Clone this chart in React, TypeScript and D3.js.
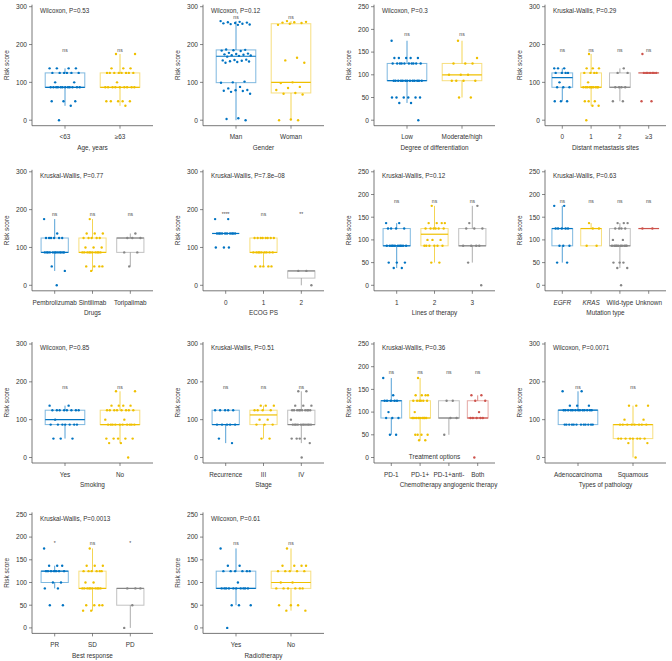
import React from "react";
import * as d3 from "d3";

const BLUE = "#0073C2";
const YEL = "#EFC000";
const GRAY = "#868686";
const RED = "#CD534C";

const ticks300 = [0, 100, 200, 300];
const ticks250 = [0, 50, 100, 150, 200, 250];

// Panel 1: Age
const ageCats = ["<63", "≥63"];
const ageLt63 = [137,137,137,137,125,125,125,125,125,125,100,100,87,87,87,87,87,87,87,87,87,87,87,87,50,50,50,38,0];
const ageGe63 = [175,175,137,137,137,125,125,125,125,125,125,125,125,100,87,87,87,87,87,87,87,87,87,50,50,50,50,50,38];
// Panel 2: Gender
const genderCats = ["Man", "Woman"];
const genderMan = [262,260,259,258,257,256,255,254,253,252,187,186,185,184,183,178,176,175,174,173,172,171,170,168,160,159,158,157,156,155,154,152,102,100,99,88,84,80,79,78,77,75,70,5,3,0];
const genderWoman = [262,260,259,258,257,255,252,165,158,152,100,98,88,85,80,72,70,68,2,0,0];
// Panel 3: Differentiation
const diffCats = ["Low", "Moderate/high"];
const diffLow = [175,137,137,137,137,137,125,125,125,125,125,125,125,125,125,125,87,87,87,87,87,87,87,87,87,87,87,87,87,50,50,50,50,50,50,38,38,0];
const diffMod = [175,137,125,125,125,100,100,100,87,87,87,87,50,50];
// Panel 4: Distant metastasis
const metaCats = ["0", "1", "2", "≥3"];
const meta0 = [137,137,137,125,125,125,125,100,87,87,87,50,50,50];
const meta1 = [175,137,137,137,125,125,125,125,100,87,87,87,87,87,87,87,87,87,87,50,50,50,38,38,0];
const meta2 = [137,125,125,87,87,87,87,50,50];
const meta3 = [175,125,125,125,125,125,125,125,50,50];
// Panel 5: Drugs
const drugCats = ["Pembrolizumab", "Sintilimab", "Toripalimab"];
const drugPem = [175,137,125,125,125,125,125,125,87,87,87,87,87,87,87,87,87,87,87,87,50,38,0];
const drugSin = [175,137,137,137,125,125,125,125,125,100,100,100,87,87,87,87,87,87,87,87,87,87,50,50,50,50,38];
const drugTor = [137,125,125,125,87,87,50];
// Panel 6: ECOG
const ecogCats = ["0", "1", "2"];
const ecog0 = [175,175,137,137,137,137,137,137,137,137,137,137,100,100,100];
const ecog1 = [125,125,125,125,125,125,125,125,87,87,87,87,87,87,87,87,87,50,50,50,50,50];
const ecog2 = [38,38,0];
// Panel 7: Lines of therapy
const linesCats = ["1", "2", "3"];
const lines1 = [137,137,125,125,125,125,87,87,87,87,87,87,87,87,87,87,50,50,50,38,38];
const lines2 = [175,137,137,137,137,125,125,125,125,125,125,100,100,100,87,87,87,87,87,87,50,50];
const lines3 = [175,137,125,125,125,87,87,87,87,50,0];
// Panel 8: Mutation
const mutCats = ["EGFR", "KRAS", "Wild-type", "Unknown"];
const mutEgfr = [175,175,125,125,125,125,125,87,87,87,50,50];
const mutKras = [137,125,125,87,87];
const mutWild = [137,137,137,125,125,125,125,100,100,87,87,87,87,87,87,87,87,87,87,50,50,50,38,38,0];
const mutUnk = [125,125];
// Panel 9: Smoking
const smokeCats = ["Yes", "No"];
const smokeYes = [137,137,125,125,125,125,125,125,125,125,100,87,87,87,87,87,87,87,50,50,50];
const smokeNo = [175,175,137,137,137,137,125,125,125,125,125,125,125,125,100,100,87,87,87,87,87,87,87,87,87,87,50,50,50,50,50,38,38,0];
// Panel 10: Stage
const stageCats = ["Recurrence", "III", "IV"];
const stageRec = [125,125,125,125,125,87,87,87,87,87,50,38];
const stageIII = [137,137,137,125,125,125,125,100,100,87,87,87,50,50];
const stageIV = [175,175,137,137,137,125,125,125,125,125,125,125,125,125,125,100,87,87,87,87,87,87,87,87,87,87,87,50,50,50,50,38,0];
// Panel 11: Treatment options
const trtCats = ["PD-1", "PD-1+", "PD-1+anti-", "Both"];
const trtPd1 = [175,137,125,125,125,125,125,100,87,87,87,50,50];
const trtChemo = [175,137,137,137,137,125,125,125,125,125,125,100,87,87,87,87,87,87,87,87,87,50,50,50,50,38,38];
const trtAnti = [125,125,87,87,50];
const trtBoth = [137,137,125,125,100,87,87,87,87,87,0];
// Panel 12: Pathology
const pathCats = ["Adenocarcinoma", "Squamous"];
const pathAdeno = [175,175,137,137,137,125,125,125,125,125,125,125,125,125,125,125,125,125,87,87,87,87,87,87,87,87,87,87,87,87];
const pathSq = [137,137,137,100,100,87,87,87,87,87,87,87,87,50,50,50,50,50,50,50,50,38,38,0];
// Panel 13: Best response
const respCats = ["PR", "SD", "PD"];
const respPr = [175,137,137,137,125,125,125,125,125,125,125,100,100,87,87,50,50];
const respSd = [175,137,137,137,125,125,125,125,125,125,100,100,87,87,87,87,87,87,87,87,87,87,50,50,50,50,38,38];
const respPd = [87,87,87,50,0];
// Panel 14: Radiotherapy
const radioCats = ["Yes", "No"];
const radioYes = [175,137,137,125,125,125,125,125,125,100,87,87,87,87,87,87,87,87,87,87,50,50,50,0];
const radioNo = [175,137,137,137,137,125,125,125,125,125,100,100,87,87,87,87,87,87,50,50,50,38,38];

type Panel = {
  row: number; col: number; yMax: number; ticks: number[]; test: string;
  cats: string[]; groups: number[][]; colors: string[]; sig: string[]; sigY: number;
  xTitle: string; italic?: boolean[]; extra?: string; titleShift?: number;
};

const C2 = [BLUE, YEL];
const C3 = [BLUE, YEL, GRAY];
const C4 = [BLUE, YEL, GRAY, RED];

const panels: Panel[] = [
  { row: 0, col: 0, yMax: 300, ticks: ticks300, test: "Wilcoxon, P=0.53", cats: ageCats, groups: [ageLt63, ageGe63], colors: C2, sig: ["ns", "ns"], sigY: 186, xTitle: "Age, years" },
  { row: 0, col: 1, yMax: 300, ticks: ticks300, test: "Wilcoxon, P=0.12", cats: genderCats, groups: [genderMan, genderWoman], colors: C2, sig: ["ns", "ns"], sigY: 273, xTitle: "Gender" },
  { row: 0, col: 2, yMax: 250, ticks: ticks250, test: "Wilcoxon, P=0.3", cats: diffCats, groups: [diffLow, diffMod], colors: C2, sig: ["ns", "ns"], sigY: 190, xTitle: "Degree of differentiation" },
  { row: 0, col: 3, yMax: 300, ticks: ticks300, test: "Kruskal-Wallis, P=0.29", cats: metaCats, groups: [meta0, meta1, meta2, meta3], colors: C4, sig: ["ns", "ns", "ns", "ns"], sigY: 186, xTitle: "Distant metastasis sites" },
  { row: 1, col: 0, yMax: 300, ticks: ticks300, test: "Kruskal-Wallis, P=0.77", cats: drugCats, groups: [drugPem, drugSin, drugTor], colors: C3, sig: ["ns", "ns", "ns"], sigY: 188, xTitle: "Drugs" },
  { row: 1, col: 1, yMax: 300, ticks: ticks300, test: "Kruskal-Wallis, P=7.8e\u201308", cats: ecogCats, groups: [ecog0, ecog1, ecog2], colors: C3, sig: ["****", "ns", "**"], sigY: 188, xTitle: "ECOG PS" },
  { row: 1, col: 2, yMax: 250, ticks: ticks250, test: "Kruskal-Wallis, P=0.12", cats: linesCats, groups: [lines1, lines2, lines3], colors: C3, sig: ["ns", "ns", "ns"], sigY: 185, xTitle: "Lines of therapy" },
  { row: 1, col: 3, yMax: 250, ticks: ticks250, test: "Kruskal-Wallis, P=0.63", cats: mutCats, groups: [mutEgfr, mutKras, mutWild, mutUnk], colors: C4, sig: ["ns", "ns", "ns", "ns"], sigY: 185, xTitle: "Mutation type", italic: [true, true, false, false] },
  { row: 2, col: 0, yMax: 300, ticks: ticks300, test: "Wilcoxon, P=0.85", cats: smokeCats, groups: [smokeYes, smokeNo], colors: C2, sig: ["ns", "ns"], sigY: 186, xTitle: "Smoking" },
  { row: 2, col: 1, yMax: 300, ticks: ticks300, test: "Kruskal-Wallis, P=0.51", cats: stageCats, groups: [stageRec, stageIII, stageIV], colors: C3, sig: ["ns", "ns", "ns"], sigY: 186, xTitle: "Stage" },
  { row: 2, col: 2, yMax: 250, ticks: ticks250, test: "Kruskal-Wallis, P=0.36", cats: trtCats, groups: [trtPd1, trtChemo, trtAnti, trtBoth], colors: C4, sig: ["ns", "ns", "ns", "ns"], sigY: 187, xTitle: "Chemotherapy angiogenic therapy", extra: "Treatment options", titleShift: 14 },
  { row: 2, col: 3, yMax: 300, ticks: ticks300, test: "Wilcoxon, P=0.0071", cats: pathCats, groups: [pathAdeno, pathSq], colors: C2, sig: ["ns", "ns"], sigY: 186, xTitle: "Types of pathology" },
  { row: 3, col: 0, yMax: 250, ticks: ticks250, test: "Kruskal-Wallis, P=0.0013", cats: respCats, groups: [respPr, respSd, respPd], colors: C3, sig: ["*", "ns", "*"], sigY: 186, xTitle: "Best response" },
  { row: 3, col: 1, yMax: 250, ticks: ticks250, test: "Wilcoxon, P=0.61", cats: radioCats, groups: [radioYes, radioNo], colors: C2, sig: ["ns", "ns"], sigY: 187, xTitle: "Radiotherapy" },
];

const ROW_TOP = [6.7, 171.8, 344, 514.4];
const PH = 113.5;
const PW = 121;
const FONT = "'Liberation Sans', Arial, Helvetica, sans-serif";
const TXT = "#333";
const AX = "#555";

function boxStats(v: number[]) {
  const s = [...v].sort(d3.ascending);
  const q1 = d3.quantile(s, 0.25)!;
  const med = d3.quantile(s, 0.5)!;
  const q3 = d3.quantile(s, 0.75)!;
  const iqr = q3 - q1;
  const lo = d3.min(s.filter((d) => d >= q1 - 1.5 * iqr))!;
  const hi = d3.max(s.filter((d) => d <= q3 + 1.5 * iqr))!;
  return { q1, med, q3, lo, hi };
}

function PanelView({ p }: { p: Panel }) {
  const x0 = 32 + 171 * p.col;
  const top = ROW_TOP[p.row];
  const zero = top + PH;
  const y = d3.scaleLinear().domain([0, p.yMax]).range([zero, top]);
  const x = d3.scalePoint<string>().domain(p.cats).range([x0, x0 + PW]).padding(0.6);
  const step = x.step();
  const axisY = zero + 5.5;
  const axisTop = top - 2;
  const bw = step * 0.72;
  const jw = step * 0.28;
  return (
    <g>
      <line x1={x0} x2={x0} y1={axisTop} y2={axisY} stroke={AX} strokeWidth={0.8} />
      {p.ticks.map((t) => (
        <g key={t}>
          <line x1={x0 - 3} x2={x0} y1={y(t)} y2={y(t)} stroke={AX} strokeWidth={0.7} />
          <text x={x0 - 5} y={y(t)} dy="0.35em" textAnchor="end" fontSize={6.6} fill={TXT}>{t}</text>
        </g>
      ))}
      <text transform={`translate(${x0 - 25},${(axisTop + axisY) / 2}) rotate(-90)`} textAnchor="middle" dy="0.35em" fontSize={6.4} fill={TXT}>Risk score</text>
      <line x1={x0} x2={x0 + PW} y1={axisY} y2={axisY} stroke={AX} strokeWidth={0.8} />
      {p.cats.map((c, i) => (
        <g key={c}>
          <line x1={x(c)!} x2={x(c)!} y1={axisY} y2={axisY + 3} stroke={AX} strokeWidth={0.7} />
          <text x={x(c)!} y={axisY + 11.5} dy="0.35em" textAnchor="middle" fontSize={6.4} fill={TXT} fontStyle={p.italic && p.italic[i] ? "italic" : "normal"}>{c}</text>
        </g>
      ))}
      <text x={x0 + PW / 2 + (p.titleShift || 0)} y={axisY + 22} dy="0.35em" textAnchor="middle" fontSize={6.4} fill={TXT}>{p.xTitle}</text>
      {p.extra && (
        <text x={x0 + PW / 2} y={zero - 1} dy="0.35em" textAnchor="middle" fontSize={6.4} fill={TXT}>{p.extra}</text>
      )}
      <text x={x0 + 8} y={top + 4} dy="0.35em" fontSize={6.3} fill={TXT}>{p.test}</text>
      {p.groups.map((g, gi) => {
        const c = p.cats[gi];
        const cx = x(c)!;
        const st = boxStats(g);
        const col = p.colors[gi];
        return (
          <g key={c}>
            <line x1={cx} x2={cx} y1={y(st.q3)} y2={y(st.hi)} stroke={col} strokeWidth={0.9} strokeOpacity={0.75} />
            <line x1={cx} x2={cx} y1={y(st.q1)} y2={y(st.lo)} stroke={col} strokeWidth={0.9} strokeOpacity={0.75} />
            <rect x={cx - bw / 2} y={y(st.q3)} width={bw} height={Math.max(0, y(st.q1) - y(st.q3))} fill="#fff" fillOpacity={0} stroke={col} strokeOpacity={0.5} strokeWidth={1} />
            <line x1={cx - bw / 2} x2={cx + bw / 2} y1={y(st.med)} y2={y(st.med)} stroke={col} strokeWidth={1.2} />
            {g.map((v, i) => {
              const off = (((i * 0.6180339887 + gi * 0.37) % 1) - 0.5) * 2 * jw;
              return <circle key={i} cx={cx + off} cy={y(v)} r={1.2} fill={col} />;
            })}
            <text x={cx} y={y(p.sigY)} dy="0.35em" textAnchor="middle" fontSize={5} fill="#444">{p.sig[gi]}</text>
          </g>
        );
      })}
    </g>
  );
}

export default function App() {
  return (
    <svg width={672} height={661} style={{ position: "absolute", left: 0, top: 0, fontFamily: FONT, background: "#fff" }}>
      <rect width={672} height={661} fill="#fff" />
      {panels.map((p, i) => (
        <PanelView key={i} p={p} />
      ))}
    </svg>
  );
}
